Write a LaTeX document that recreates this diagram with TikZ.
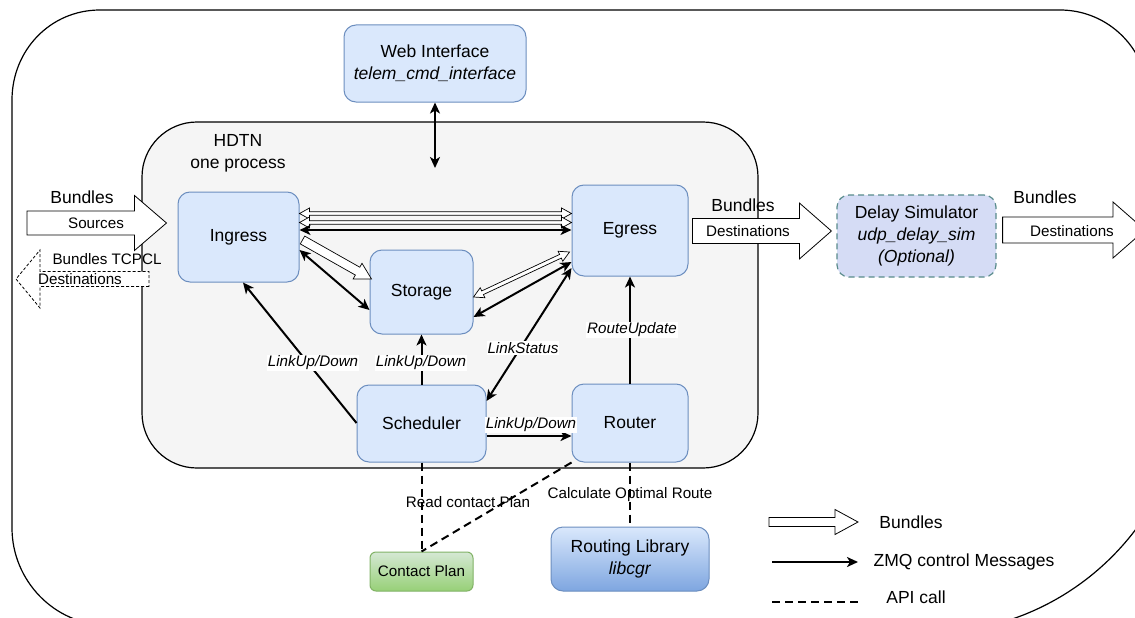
\documentclass[tikz,border=0pt]{standalone}
\usepackage{fontspec}
\setmainfont{Liberation Sans}
\usetikzlibrary{calc,arrows.meta}
\definecolor{bfill}{HTML}{DAE8FC}
\definecolor{bdraw}{HTML}{6C8EBF}
\definecolor{hdtnfill}{HTML}{F5F5F5}
\definecolor{dfill}{RGB}{213,220,245}
\definecolor{ddraw}{RGB}{90,140,140}
\definecolor{gtop}{HTML}{D5E8D4}
\definecolor{gbot}{HTML}{97D077}
\definecolor{gdraw}{HTML}{82B366}
\definecolor{rbot}{HTML}{7EA6E0}
\newcommand\bigfont{\fontsize{17.5}{22}\selectfont}
\newcommand\smallfont{\fontsize{15.2}{18}\selectfont}
% #1 style, #2 start, #3 end, #4 half shaft, #5 half head, #6 head length
\newcommand\flexdouble[6]{%
 \coordinate (faA) at (#2); \coordinate (faB) at (#3);
 \coordinate (faP) at ($(faA)!#6!(faB)$);
 \coordinate (faQ) at ($(faB)!#6!(faA)$);
 \draw[#1] (faA) -- ($(faP)!#5!90:(faB)$) -- ($(faP)!#4!90:(faB)$) -- ($(faQ)!#4!-90:(faA)$) -- ($(faQ)!#5!-90:(faA)$) -- (faB) -- ($(faQ)!#5!90:(faA)$) -- ($(faQ)!#4!90:(faA)$) -- ($(faP)!#4!-90:(faB)$) -- ($(faP)!#5!-90:(faB)$) -- cycle;
}
\newcommand\flexsingle[6]{%
 \coordinate (faA) at (#2); \coordinate (faB) at (#3);
 \coordinate (faQ) at ($(faB)!#6!(faA)$);
 \draw[#1] ($(faA)!#4!90:(faB)$) -- ($(faQ)!#4!-90:(faA)$) -- ($(faQ)!#5!-90:(faA)$) -- (faB) -- ($(faQ)!#5!90:(faA)$) -- ($(faQ)!#4!90:(faA)$) -- ($(faA)!#4!-90:(faB)$) -- cycle;
}
\begin{document}
\begin{tikzpicture}[x=1pt,y=-1pt,
  >={Stealth[length=11pt,width=10pt,inset=3pt]},
  box/.style={draw=bdraw, fill=bfill, line width=1pt, rounded corners=12pt, inner sep=0pt, align=center, font=\bigfont},
  ctrl/.style={line width=2pt},
  api/.style={line width=2pt, dash pattern=on 8pt off 5pt},
  lab/.style={font=\smallfont\itshape, fill=white, inner sep=1pt},
  txt/.style={font=\bigfont, inner sep=0pt, align=center},
  stxt/.style={font=\smallfont, inner sep=0pt},
  bund/.style={draw=black, fill=white, line width=0.8pt, line join=miter},
  thin/.style={draw=black, fill=white, line width=0.7pt}]
\useasboundingbox (0,0) rectangle (1135,618);
\clip (0,0) rectangle (1135,618);
\fill[white] (0,0) rectangle (1135,618);
% outer frame
\draw[line width=1.2pt] (12,528) -- (12,100) .. controls (12,50.3) and (50.3,10) .. (100,10) -- (1060,10) .. controls (1108.6,10) and (1148,49.4) .. (1148,98) -- (1188,373) .. controls (1188,516.6) and (1071.6,633) .. (928,633) -- (107,625) .. controls (54.5,625) and (12,580.5) .. (12,528) -- cycle;
% HDTN box
\draw[fill=hdtnfill, line width=1.2pt, rounded corners=55pt] (142,122) rectangle (758,468);
\node[txt] (hdtn) at (238,153.5) {HDTN\\one process};
% nodes
\node[box, minimum width=182pt, minimum height=77pt] (web) at (435,63.5) {Web Interface\\\textit{telem\_cmd\_interface}};
\node[box, minimum width=121pt, minimum height=90pt] (ing) at (238.5,237) {Ingress};
\node[box, minimum width=103pt, minimum height=84pt] (sto) at (421.5,292) {Storage};
\node[box, minimum width=116pt, minimum height=91pt] (eg) at (630,230.5) {Egress};
\node[box, minimum width=129pt, minimum height=77pt] (sch) at (421.5,423.5) {Scheduler};
\node[box, minimum width=116pt, minimum height=78pt] (rt) at (630,423) {Router};
\node[box, draw=ddraw, fill=dfill, line width=1.2pt, dash pattern=on 6pt off 4pt, minimum width=159pt, minimum height=82pt] (delay) at (916.5,236) {Delay Simulator\\\textit{udp\_delay\_sim}\\\textit{(Optional)}};
\node[box, draw=gdraw, top color=gtop, bottom color=gbot, font=\smallfont, rounded corners=6pt, minimum width=103pt, minimum height=39pt] (cp) at (421.5,571.5) {Contact Plan};
\node[box, top color=bfill, bottom color=rbot, minimum width=158pt, minimum height=64pt] (rl) at (630,559) {Routing Library\\\textit{libcgr}};
% bundle (hollow) arrows inside HDTN
\flexdouble{thin}{ing.east |- 0,213.5}{eg.west |- 0,213.5}{1.7pt}{5.5pt}{10pt}
\flexdouble{thin}{ing.east |- 0,222.5}{eg.west |- 0,222.5}{1.7pt}{5.5pt}{10pt}
\flexsingle{thin}{$(ing.east |- 0,240)+(3,0)$}{$(sto.west |- 0,279)+(2,0)$}{4.5pt}{9pt}{16pt}
\flexdouble{thin}{sto.east |- 0,297}{$(eg.west |- 0,252)+(-2,0)$}{2pt}{5.5pt}{10pt}
% ZMQ control arrows
\draw[ctrl,<->] (ing.east |- 0,230) -- (eg.west |- 0,230);
\draw[ctrl,<->] (ing.east |- 0,250) -- (sto.west |- 0,310);
\draw[ctrl,<->] (sto.east |- 0,317) -- (eg.west |- 0,262);
\draw[ctrl,<->] (sch.east |- 0,401) -- (eg.west |- 0,268);
\draw[ctrl,->] (sch.west |- 0,423) -- (ing.south -| 243,0);
\draw[ctrl,->] (sch.north) -- (sto.south);
\draw[ctrl,->] (sch.east |- 0,436) -- (rt.west |- 0,436);
\draw[ctrl,->] (rt.north) -- (eg.south);
\coordinate (webend) at (435,168);
\draw[ctrl,<->] (web.south) -- (webend);
% API calls
\draw[api] (sch.south) -- (cp.north);
\draw[api] (rt.south west) -- (cp.north);
\draw[api] (rt.south) -- (rl.north);
% labels
\node[lab] (l1) at (313,363) {LinkUp/Down};
\node[lab] (l2) at (421,363) {LinkUp/Down};
\node[lab] (l3) at (523,348) {LinkStatus};
\node[lab] (l4) at (531,425) {LinkUp/Down};
\node[lab] (l5) at (632,330) {RouteUpdate};
\node[stxt] (l6) at (468,502) {Read contact Plan};
\node[stxt] (l7) at (630,495) {Calculate Optimal Route};
% external bundle arrows
\coordinate (srcstart) at (27,223);
\flexsingle{bund}{srcstart}{$(ing.west |- 0,223)+(-11,0)$}{12pt}{27.5pt}{32pt}
\node[stxt] (srclab) at (96,223) {Sources};
\node[txt] (srcb) at (82,197) {Bundles};
\coordinate (dstend) at (16,279);
\flexsingle{bund, dash pattern=on 3pt off 2pt}{149,279}{dstend}{7.5pt}{29pt}{24pt}
\node[stxt] (dstlab) at (80,279) {Destinations};
\node[stxt] (dstb) at (107,259) {Bundles TCPCL};
\flexsingle{bund}{$(eg.east |- 0,231)+(4,0)$}{$(delay.west |- 0,231)+(-5,0)$}{12.5pt}{28pt}{32pt}
\node[txt] (egb) at (743,205) {Bundles};
\node[stxt] (eglab) at (748,231) {Destinations};
\coordinate (outend) at (1145,230);
\flexsingle{bund}{$(delay.east |- 0,230)+(6,0)$}{outend}{13pt}{28pt}{32pt}
\node[txt] (outb) at (1045,197) {Bundles};
\node[stxt] (outlab) at (1072,231) {Destinations};
% legend
\coordinate (lg1s) at (769,522); \coordinate (lg1e) at (858,522);
\flexsingle{bund}{lg1s}{lg1e}{4.5pt}{12.5pt}{23pt}
\node[txt] (lgt1) at (911,522) {Bundles};
\coordinate (lg2s) at (772,562); \coordinate (lg2e) at (858,562);
\draw[ctrl,->] (lg2s) -- (lg2e);
\node[txt] (lgt2) at (964,562) {ZMQ control Messages};
\coordinate (lg3s) at (772,602); \coordinate (lg3e) at (858,602);
\draw[api] (lg3s) -- (lg3e);
\node[txt] (lgt3) at (916,597) {API call};
\end{tikzpicture}
\end{document}
